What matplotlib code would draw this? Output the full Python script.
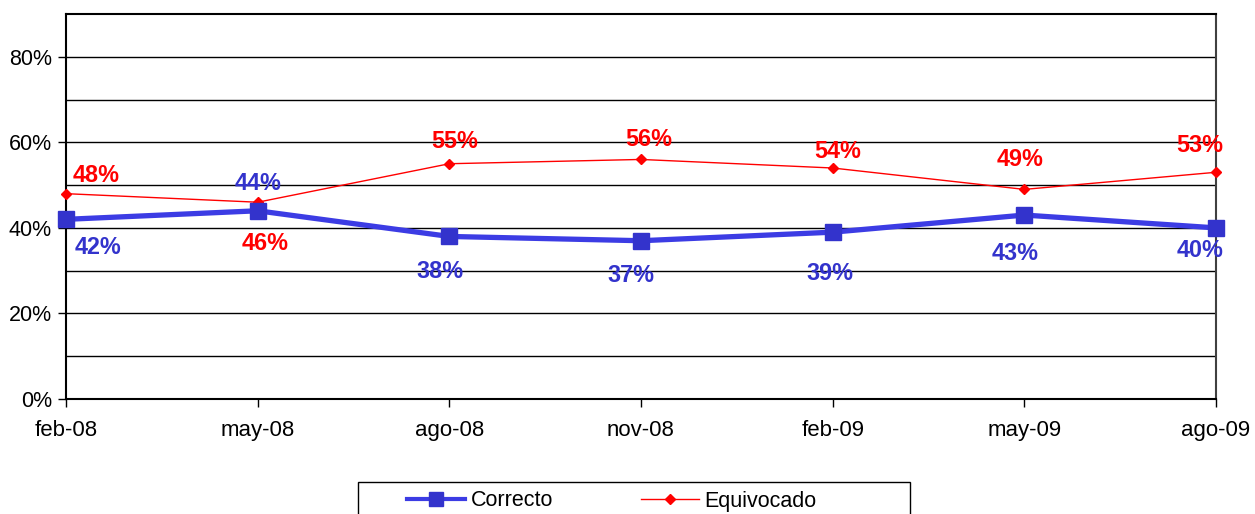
import matplotlib
matplotlib.use('Agg')
import matplotlib.pyplot as plt
from matplotlib.ticker import FixedLocator
from matplotlib.patches import Rectangle

plt.rcParams['font.family'] = ['Liberation Sans', 'DejaVu Sans']

# datos
meses = ['feb-08', 'may-08', 'ago-08', 'nov-08', 'feb-09', 'may-09', 'ago-09']
correcto = [42, 44, 38, 37, 39, 43, 40]
equivocado = [48, 46, 55, 56, 54, 49, 53]

azul = '#3333CC'
rojo = '#FF0000'

W, H = 1255, 514
fig = plt.figure(figsize=(W / 100, H / 100), dpi=100)
ax = fig.add_axes([66 / W, 1 - 399 / H, (1216 - 66) / W, (399 - 14) / H])

x = list(range(len(meses)))

# lineas de la rejilla cada 10%
for g in range(10, 90, 10):
    ax.axhline(g, color='black', lw=1, zorder=1)

ax.plot(x, correcto, color='#3c3ce4', lw=3.8, marker='s', ms=12,
        mfc=azul, mec=azul, label='Correcto', zorder=4, clip_on=False)
ax.plot(x, equivocado, color=rojo, lw=1, marker='D', ms=5,
        mfc=rojo, mec=rojo, label='Equivocado', zorder=3, clip_on=False)

# desplazamiento de las etiquetas en pixeles (x derecha, y abajo)
off_c = [(32, 28), (0, -27), (-9, 35), (-10, 35), (-3, 41), (-9, 38), (-16, 23)]
off_e = [(30, -18), (7, 41), (5, -22), (8, -20), (5, -16), (-4, -30), (-16, -27)]
for i in x:
    ax.annotate(f'{correcto[i]}%', (i, correcto[i]),
                xytext=(off_c[i][0] * 0.72, -off_c[i][1] * 0.72),
                textcoords='offset points', ha='center', va='center',
                color=azul, fontsize=16.8, fontweight='bold', zorder=6, annotation_clip=False)
    ax.annotate(f'{equivocado[i]}%', (i, equivocado[i]),
                xytext=(off_e[i][0] * 0.72, -off_e[i][1] * 0.72),
                textcoords='offset points', ha='center', va='center',
                color=rojo, fontsize=16.8, fontweight='bold', zorder=6, annotation_clip=False)

ax.set_xlim(0, len(meses) - 1)
ax.set_ylim(0, 90)
ax.set_xticks(x)
ax.set_xticklabels(meses, fontsize=16)
ax.yaxis.set_major_locator(FixedLocator([0, 20, 40, 60, 80]))
ax.set_yticklabels(['0%', '20%', '40%', '60%', '80%'], fontsize=15.5)
ax.tick_params(axis='x', direction='out', length=6, width=1, pad=9)
ax.tick_params(axis='y', direction='out', length=6, width=1, pad=4)

for s in ['left', 'bottom', 'top']:
    ax.spines[s].set_color('black')
    ax.spines[s].set_linewidth(1.5)
ax.spines['right'].set_color('#404040')
ax.spines['right'].set_linewidth(1.5)

# leyenda abajo, caja cortada por el borde
fig.patches.append(Rectangle((358 / W, -0.05), (910 - 358) / W, (1 - 482 / H) + 0.05,
                             transform=fig.transFigure, fill=False, ec='black', lw=1))
handles, labels = ax.get_legend_handles_labels()
leg = fig.legend(handles, labels, loc='center left', bbox_to_anchor=(407 / W, 1 - 501 / H), ncol=2,
                 fontsize=15.5, frameon=False, handlelength=2.7, handletextpad=0.25,
                 columnspacing=4.1, borderpad=0, borderaxespad=0)
leg.legend_handles[0].set_linewidth(3)
leg.legend_handles[0].set_markersize(10)

fig.savefig('out.png', dpi=100)
